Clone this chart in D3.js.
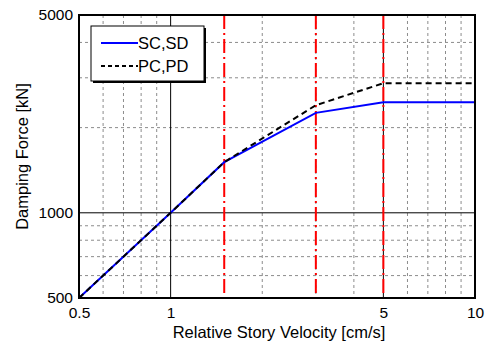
<!DOCTYPE html>
<html>
<head>
<meta charset="utf-8">
<script src="https://cdn.jsdelivr.net/npm/d3@7"></script>
<style>
  body { margin: 0; background: #fff; }
  text { font-family: "Liberation Sans", Arial, sans-serif; }
</style>
</head>
<body>
<div id="chart"></div>
<script>
// Data
var velSC = [0.5, 1, 1.5, 3, 5, 10];
var forceSC = [500, 1000, 1510, 2255, 2460, 2460];
var velPC = [0.5, 1, 1.5, 3, 5, 10];
var forcePC = [500, 1000, 1510, 2400, 2870, 2870];
var seriesNames = ["SC,SD", "PC,PD"];
var redLines = [1.5, 3, 5];
var xTicks = [0.5, 1, 5, 10];
var xMinor = [0.6, 0.7, 0.8, 0.9, 2, 3, 4, 6, 7, 8, 9];
var yTicks = [500, 1000, 5000];
var yMinor = [600, 700, 800, 900, 2000, 3000, 4000];

var W = 490, H = 349;
var margin = {top: 15, right: 15, bottom: 51, left: 79};
var width = W - margin.left - margin.right;
var height = H - margin.top - margin.bottom;

var svg = d3.select("#chart").append("svg")
    .attr("width", W)
    .attr("height", H);

var g = svg.append("g")
    .attr("transform", "translate(" + margin.left + "," + margin.top + ")");

var x = d3.scaleLog().domain([0.5, 10]).range([0, width]);
var y = d3.scaleLog().domain([500, 5000]).range([height, 0]);

// minor grid (dashed gray)
g.selectAll(".xminor").data(xMinor).enter().append("line")
    .attr("x1", d => x(d)).attr("x2", d => x(d))
    .attr("y1", 0).attr("y2", height)
    .style("stroke", "#8c8c8c").style("stroke-width", 1)
    .style("stroke-dasharray", "3,3");

g.selectAll(".yminor").data(yMinor).enter().append("line")
    .attr("y1", d => y(d)).attr("y2", d => y(d))
    .attr("x1", 0).attr("x2", width)
    .style("stroke", "#8c8c8c").style("stroke-width", 1)
    .style("stroke-dasharray", "3,3");

// major grid (solid black)
g.selectAll(".xmajor").data(xTicks).enter().append("line")
    .attr("x1", d => x(d)).attr("x2", d => x(d))
    .attr("y1", 0).attr("y2", height)
    .style("stroke", "#000").style("stroke-width", 1);

g.selectAll(".ymajor").data(yTicks).enter().append("line")
    .attr("y1", d => y(d)).attr("y2", d => y(d))
    .attr("x1", 0).attr("x2", width)
    .style("stroke", "#000").style("stroke-width", 1);

// red dash-dot verticals
g.selectAll(".red").data(redLines).enter().append("line")
    .attr("x1", d => x(d)).attr("x2", d => x(d))
    .attr("y1", 0).attr("y2", height)
    .style("stroke", "#ff0000").style("stroke-width", 2)
    .style("stroke-dasharray", "14,4,2,4");

// curves
var line = d3.line().x(d => x(d[0])).y(d => y(d[1]));

g.append("path")
    .attr("d", line(d3.zip(velSC, forceSC)))
    .style("fill", "none").style("stroke", "#0000ff").style("stroke-width", 2);

g.append("path")
    .attr("d", line(d3.zip(velPC, forcePC)))
    .style("fill", "none").style("stroke", "#000").style("stroke-width", 2)
    .style("stroke-dasharray", "6,4");

// axes
var xAxis = d3.axisBottom(x).tickValues(xTicks).tickFormat(d3.format("")).tickSize(0).tickPadding(9);
var yAxis = d3.axisLeft(y).tickValues(yTicks).tickFormat(d3.format("")).tickSize(0).tickPadding(6);

var gx = g.append("g").attr("transform", "translate(0," + height + ")").call(xAxis);
var gy = g.append("g").call(yAxis);
[gx, gy].forEach(function(a) {
    a.select(".domain").remove();
    a.selectAll("text").style("font-size", "15.5px").style("fill", "#000")
        .style("font-family", "'Liberation Sans', Arial, sans-serif");
});

// frame
g.append("rect")
    .attr("x", 0).attr("y", 0).attr("width", width).attr("height", height)
    .style("fill", "none").style("stroke", "#000").style("stroke-width", 2);

// axis titles
svg.append("text")
    .attr("x", margin.left + width / 2 + 2)
    .attr("y", 338)
    .attr("text-anchor", "middle")
    .style("font-size", "16.5px")
    .text("Relative Story Velocity [cm/s]");

svg.append("text")
    .attr("transform", "translate(28," + (margin.top + height / 2) + ") rotate(-90)")
    .attr("text-anchor", "middle")
    .style("font-size", "16.5px")
    .text("Damping Force [kN]");

// legend
var leg = svg.append("g").attr("transform", "translate(91,26)");
leg.append("rect")
    .attr("x", 2).attr("y", 2).attr("width", 113).attr("height", 55)
    .style("fill", "#000");
leg.append("rect")
    .attr("x", 0).attr("y", 0).attr("width", 113).attr("height", 55)
    .style("fill", "#fff").style("stroke", "#000").style("stroke-width", 1);

var legStyles = [
    {stroke: "#0000ff", dash: null},
    {stroke: "#000", dash: "4,3"}
];
seriesNames.forEach(function(name, i) {
    var yy = 17 + i * 23;
    leg.append("line")
        .attr("x1", 10).attr("x2", 47).attr("y1", yy).attr("y2", yy)
        .style("stroke", legStyles[i].stroke).style("stroke-width", 2)
        .style("stroke-dasharray", legStyles[i].dash);
    leg.append("text")
        .attr("x", 47).attr("y", yy + 6)
        .style("font-size", "16.5px")
        .text(name);
});
</script>
</body>
</html>
